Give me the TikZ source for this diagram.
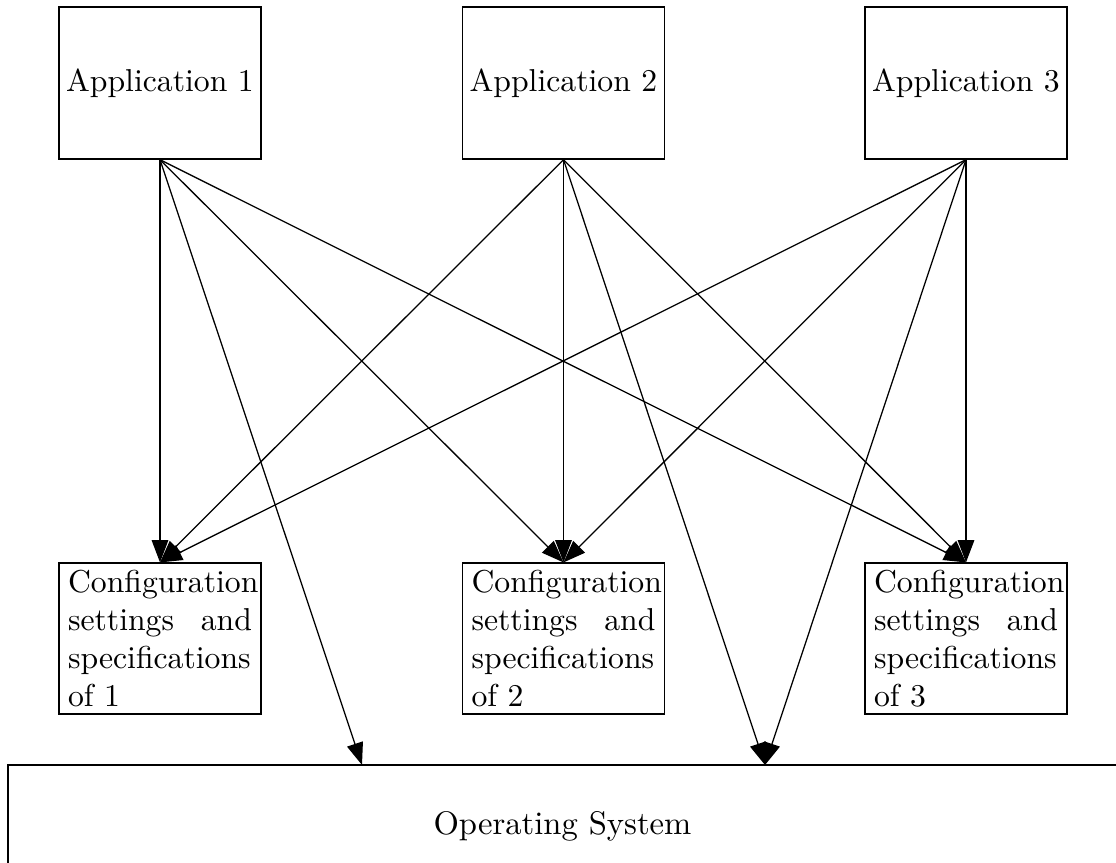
\documentclass[tikz,border=0pt]{standalone}
\usetikzlibrary{arrows.meta}
\begin{document}
\begin{tikzpicture}[x=0.3155pt,y=-0.3155pt,
  appbox/.style={draw, line width=0.4pt, minimum width=63.7pt, minimum height=48pt, inner sep=0pt},
  cfgbox/.style={draw, line width=0.4pt, text width=58pt, align=left, inner xsep=2.85pt, inner ysep=1pt, minimum height=47.6pt},
  osbox/.style={draw, line width=0.4pt, minimum width=349.9pt, minimum height=38.5pt, inner sep=0pt, font=\fontsize{10.3}{12}\selectfont},
  arr/.style={-{Triangle[length=7pt,width=5.2pt]}, line width=0.4pt}]
\clip (0,0) rectangle (1116,863);
\node[appbox] (a1) at (160,83) {Application 1};
\node[appbox] (a2) at (563.5,83) {Application 2};
\node[appbox] (a3) at (966,83) {Application 3};
\node[cfgbox] (c1) at (160,638.5) {Configuration\\settings\hfill and\\specifications\\of 1};
\node[cfgbox] (c2) at (563.5,638.5) {Configuration\\settings\hfill and\\specifications\\of 2};
\node[cfgbox] (c3) at (966,638.5) {Configuration\\settings\hfill and\\specifications\\of 3};
\node[osbox] (os) at (562.5,826) {Operating System};
\coordinate (o1) at (362,765);
\coordinate (o2) at (765,765);
\foreach \a in {a1,a2,a3}{
  \foreach \c in {c1,c2,c3}{
    \draw[arr] (\a.south) -- (\c.north);
  }
}
\draw[arr] (a1.south) -- (o1);
\draw[arr] (a2.south) -- (o2);
\draw[arr] (a3.south) -- (o2);
\end{tikzpicture}
\end{document}
